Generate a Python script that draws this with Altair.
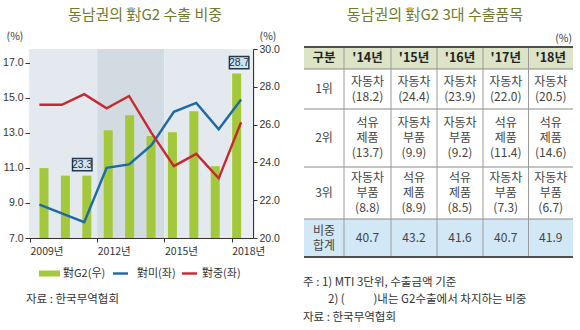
import altair as alt
import pandas as pd

# ---------------- data ----------------
years = list(range(2009, 2019))
g2_share = [23.7, 23.3, 23.3, 25.7, 26.5, 25.4, 25.6, 26.7, 23.8, 28.7]   # 對G2 (right axis)
us_share = [8.9, 8.4, 7.9, 11.0, 11.2, 12.3, 14.2, 14.7, 13.2, 14.9]      # 對미 (left axis)
cn_share = [14.6, 14.6, 15.2, 14.4, 15.1, 13.0, 11.1, 11.8, 10.4, 13.6]   # 對중 (left axis)
label_years = [2011, 2018]
label_values = [23.3, 28.7]
x_tick_years = [2009, 2012, 2015, 2018]
left_ticks = [7, 9, 11, 13, 15, 17]
right_ticks = [20, 22, 24, 26, 28, 30]

table_headers = ["구분", "'14년", "'15년", "'16년", "'17년", "'18년"]
rank_labels = ["1위", "2위", "3위", "비중\n합계"]
rank1_items = ["자동차", "자동차", "자동차", "자동차", "자동차"]
rank1_shares = [18.2, 24.4, 23.9, 22.0, 20.5]
rank2_items = ["석유\n제품", "자동차\n부품", "자동차\n부품", "석유\n제품", "석유\n제품"]
rank2_shares = [13.7, 9.9, 9.2, 11.4, 14.6]
rank3_items = ["자동차\n부품", "석유\n제품", "석유\n제품", "자동차\n부품", "자동차\n부품"]
rank3_shares = [8.8, 8.9, 8.5, 7.3, 6.7]
total_shares = [40.7, 43.2, 41.6, 40.7, 41.9]

# ---------------- layout / style ----------------
W, H = 223, 189
X_DOM = [2009, 2018.95]
Y_RIGHT = [20, 30]
BAR_OFF = 0.42
FONT = "Noto Sans CJK KR"
NUM_FONT = "Liberation Sans Narrow, Liberation Sans, Arial, sans-serif"
AX = "#333333"
BLUE = "#1c69a6"
RED = "#c8282f"
GREEN = "#a4c83b"
TITLE_C = "#6f7b2c"
LH = 15

col_edges = [0, 40, 87, 133, 179, 224.5, 269]
row_edges = [0, 22, 62, 120, 172, 210]

xs = alt.Scale(domain=X_DOM, nice=False, zero=False)
yl = alt.Scale(domain=[7, 17.78], nice=False, zero=False)
yr = alt.Scale(domain=Y_RIGHT, nice=False, zero=False)
txs = alt.Scale(domain=[0, 269], range=[274, 543], nice=False, zero=False)
tys = alt.Scale(domain=[0, 210], range=[-2, 208], nice=False, zero=False)

df = pd.DataFrame(dict(year=years, g2=g2_share, us=us_share, cn=cn_share))

bands = pd.DataFrame({
    "start": [2009, 2012, 2015, 2018],
    "end": [2012, 2015, 2018, X_DOM[1]],
    "shade": ["a", "b", "a", "c"],
})

band_layer = alt.Chart(bands).mark_rect().encode(
    x=alt.X("start:Q", scale=xs, axis=alt.Axis(
        values=x_tick_years, labelExpr="datum.value + '년'", title=None, grid=False,
        tickSize=4, labelPadding=4, labelAlign="left", labelFlush=False, labelOverlap=False,
        labelFontSize=10.5, labelFont=FONT, labelColor=AX, domainColor=AX, tickColor=AX,
        domainWidth=1.2)),
    x2="end:Q",
    y=alt.value(0), y2=alt.value(H),
    color=alt.Color("shade:N", scale=alt.Scale(domain=["a", "b", "c"],
                    range=["#e3e9ee", "#d2dae2", "#eaeef2"]), legend=None),
)

bar_layer = alt.Chart(df).transform_calculate(
    xpos=f"datum.year + {BAR_OFF}", base=f"{Y_RIGHT[0]}").mark_bar(
    size=9, color=GREEN).encode(
    x=alt.X("xpos:Q", scale=xs, axis=None),
    y=alt.Y("g2:Q", scale=yr, axis=alt.Axis(
        orient="right", values=right_ticks, format=".1f", title=None, grid=False,
        tickSize=4, labelPadding=2, labelFontSize=10.5, labelFont=NUM_FONT,
        labelColor=AX, domainColor=AX, tickColor=AX, domainWidth=1.2)),
    y2="base:Q",
)

line_layer = alt.Chart(df).transform_fold(["us", "cn"], as_=["series", "value"]).transform_calculate(
    xpos=f"datum.year + {BAR_OFF}").mark_line(strokeWidth=2.4).encode(
    x=alt.X("xpos:Q", scale=xs, axis=None),
    y=alt.Y("value:Q", scale=yl, axis=alt.Axis(
        orient="left", values=left_ticks, format=".1f", title=None, grid=False,
        tickSize=5, labelPadding=2, labelFontSize=10.5, labelFont=NUM_FONT,
        labelColor=AX, domainColor=AX, tickColor=AX, domainWidth=1.2)),
    color=alt.Color("series:N", scale=alt.Scale(domain=["us", "cn"], range=[BLUE, RED]), legend=None),
)

lab = pd.DataFrame({"year": label_years, "value": label_values})
box_layer = alt.Chart(lab).transform_calculate(xpos=f"datum.year + {BAR_OFF}").mark_point(
    shape="M-1,-0.63L1,-0.63L1,0.63L-1,0.63Z", size=380, filled=True, fill="#cfe2ef",
    stroke="#23364a", strokeWidth=1.4, opacity=1, yOffset=-11, xOffset=-2).encode(
    x=alt.X("xpos:Q", scale=xs, axis=None),
    y=alt.Y("value:Q", scale=yr, axis=None),
)
lab_text = alt.Chart(lab).transform_calculate(xpos=f"datum.year + {BAR_OFF}").mark_text(
    dy=-11, dx=-2, fontSize=10.5, font=NUM_FONT, color="#1e2e3e", baseline="middle").encode(
    x=alt.X("xpos:Q", scale=xs, axis=None),
    y=alt.Y("value:Q", scale=yr, axis=None),
    text=alt.Text("value:Q", format=".1f"),
)


def note(text, x, y, size=11, color="#333333", align="left", weight="normal", font=FONT):
    return alt.Chart(alt.Data(values=[{}])).mark_text(
        text=text, align=align, baseline="middle", fontSize=size, color=color,
        fontWeight=weight, font=font).encode(x=alt.value(x), y=alt.value(y))


def seg(x0, x1, y0, y1, color, width=2.4):
    return alt.Chart(alt.Data(values=[{}])).mark_rule(color=color, strokeWidth=width).encode(
        x=alt.value(x0), x2=alt.value(x1), y=alt.value(y0), y2=alt.value(y1))


legend_rect = alt.Chart(alt.Data(values=[{}])).mark_rect(color=GREEN).encode(
    x=alt.value(9), x2=alt.value(30), y=alt.value(221.5), y2=alt.value(227.5))

texts_left = [
    note("동남권의 對G2 수출 비중", 115, -34, size=15, color=TITLE_C, align="center"),
    note("(%)", -15, -12, size=10.5, align="center"),
    note("(%)", 238, -12, size=10.5, align="center"),
    legend_rect,
    note("對G2(우)", 33, 224.5, size=11),
    seg(83, 98, 224.5, 224.5, BLUE),
    note("對미(좌)", 107, 224.5, size=11),
    seg(152, 167, 224.5, 224.5, RED),
    note("對중(좌)", 172, 224.5, size=11),
    note("자료 : 한국무역협회", -4, 251, size=11.5),
]

# ---------------- table ----------------
fills = pd.DataFrame({
    "x0": [col_edges[0], col_edges[0]], "x1": [col_edges[-1], col_edges[-1]],
    "y0": [row_edges[0], row_edges[4]], "y1": [row_edges[1], row_edges[5]],
    "kind": ["head", "total"],
})
fill_layer = alt.Chart(fills).mark_rect().encode(
    x=alt.X("x0:Q", scale=txs, axis=None), x2="x1:Q",
    y=alt.Y("y0:Q", scale=tys, axis=None), y2="y1:Q",
    color=alt.Color("kind:N", scale=alt.Scale(domain=["head", "total"],
                    range=["#dde3c6", "#d3e8f6"]), legend=None),
)

thin_h = pd.DataFrame({"y": row_edges[1:5], "x0": col_edges[0], "x1": col_edges[-1]})
thick_h = pd.DataFrame({"y": [row_edges[0], row_edges[-1]], "x0": col_edges[0], "x1": col_edges[-1]})
vert = pd.DataFrame({"x": col_edges[1:-1], "y0": row_edges[0], "y1": row_edges[-1]})

thin_h_layer = alt.Chart(thin_h).mark_rule(color="#8a8a8a", strokeWidth=1).encode(
    x=alt.X("x0:Q", scale=txs, axis=None), x2="x1:Q", y=alt.Y("y:Q", scale=tys, axis=None))
thick_h_layer = alt.Chart(thick_h).mark_rule(color="#505050", strokeWidth=2).encode(
    x=alt.X("x0:Q", scale=txs, axis=None), x2="x1:Q", y=alt.Y("y:Q", scale=tys, axis=None))
vert_layer = alt.Chart(vert).mark_rule(color="#9a9a9a", strokeWidth=1).encode(
    x=alt.X("x:Q", scale=txs, axis=None), y=alt.Y("y0:Q", scale=tys, axis=None), y2="y1:Q")

cx = [(col_edges[i] + col_edges[i + 1]) / 2 for i in range(6)]
cy = [(row_edges[i] + row_edges[i + 1]) / 2 for i in range(5)]


def first_line_y(center, text):
    n = text.count("\n") + 1
    return center - (n - 1) * LH / 2


head_df = pd.DataFrame({"cx": cx, "cy": cy[0], "text": table_headers})
body_rows = []
for r, lbl in enumerate(rank_labels):
    body_rows.append({"cx": cx[0], "cy": first_line_y(cy[r + 1], lbl), "text": lbl})
groups = [(rank1_items, rank1_shares), (rank2_items, rank2_shares), (rank3_items, rank3_shares)]
for r, (items, shares) in enumerate(groups):
    for c in range(5):
        t = f"{items[c]}\n({shares[c]:.1f})"
        body_rows.append({"cx": cx[c + 1], "cy": first_line_y(cy[r + 1], t), "text": t})
for c in range(5):
    t = f"{total_shares[c]:.1f}"
    body_rows.append({"cx": cx[c + 1], "cy": cy[4], "text": t})
body_df = pd.DataFrame(body_rows)

head_text = alt.Chart(head_df).mark_text(
    font=FONT, fontSize=12.5, fontWeight="bold", color="#222222", baseline="middle").encode(
    x=alt.X("cx:Q", scale=txs, axis=None), y=alt.Y("cy:Q", scale=tys, axis=None), text="text:N")
body_text = alt.Chart(body_df).mark_text(
    font=FONT, fontSize=12, color="#444444", baseline="middle", lineBreak="\n", lineHeight=LH).encode(
    x=alt.X("cx:Q", scale=txs, axis=None), y=alt.Y("cy:Q", scale=tys, axis=None), text="text:N")

texts_right = [
    note("동남권의 對G2 3대 수출품목", 405, -34, size=15, color=TITLE_C, align="center"),
    note("(%)", 542, -10, size=10.5, align="right"),
    note("주 : 1) MTI 3단위, 수출금액 기준", 273, 234, size=11.5),
    note("2) (\u3000\u3000\u2002)내는 G2수출에서 차지하는 비중", 298, 251, size=11.5),
    note("자료 : 한국무역협회", 273, 269, size=11.5),
]

chart = alt.layer(
    band_layer, bar_layer, line_layer, box_layer, lab_text,
    fill_layer, thin_h_layer, vert_layer, thick_h_layer, head_text, body_text,
    *texts_left, *texts_right,
).resolve_scale(
    x="independent", y="independent", color="independent"
).properties(
    width=W, height=H,
    padding={"left": 30, "top": 49, "right": 580 - 30 - W, "bottom": 330 - 49 - H},
    autosize=alt.AutoSizeParams(type="none"),
    background="white",
).configure_view(stroke=None)

chart.save("out.html", embed_options={"renderer": "svg", "actions": False})
